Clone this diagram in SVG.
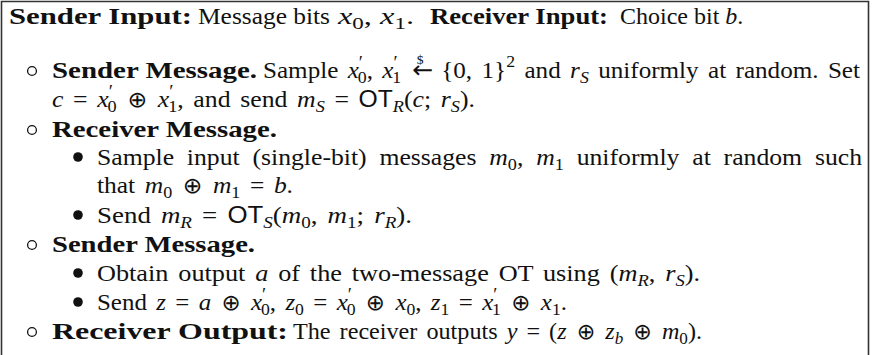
<svg xmlns="http://www.w3.org/2000/svg" width="874" height="355" viewBox="0 0 874 355">
<style>
text{font-family:"Liberation Serif","DejaVu Serif",serif;font-size:24px;fill:#111}
.b{font-weight:bold}
.i{font-style:italic}
.s{font-size:17px}
.p{font-size:18px}
.sf{font-family:"Liberation Sans","DejaVu Sans",sans-serif;font-size:23px}
.op{font-family:"DejaVu Sans",sans-serif;font-size:22px}
.ar{font-family:"DejaVu Sans",sans-serif;font-size:24px}
.dl{font-size:13px}
.ws{word-spacing:3px}
.ho{fill:none;stroke:#111;stroke-width:1.3}
.fb{fill:#111}
</style>
<rect width="874" height="355" fill="#fff"/>
<path d="M1.5,355V1.5H868.5V355" fill="none" stroke="#333" stroke-width="1.6"/>
<g id="inputs">
<text class="b" x="9" y="24" textLength="183" lengthAdjust="spacingAndGlyphs">Sender Input:</text>
<text x="198" y="24" textLength="132" lengthAdjust="spacingAndGlyphs">Message bits</text>
<text x="338" y="24" textLength="76" lengthAdjust="spacingAndGlyphs"><tspan class="i">x</tspan><tspan class="s" dy="5">0</tspan><tspan dy="-5">, </tspan><tspan class="i">x</tspan><tspan class="s" dy="5">1</tspan><tspan dy="-5">.</tspan></text>
<text class="b" x="430" y="24" textLength="178" lengthAdjust="spacingAndGlyphs">Receiver Input:</text>
<text x="620" y="24">Choice bit <tspan class="i">b</tspan>.</text>
</g>
<g id="sender-message-1">
<circle class="ho" cx="32" cy="71" r="4.4"/>
<text class="b" x="52" y="78" textLength="205" lengthAdjust="spacingAndGlyphs">Sender Message.</text>
<text class="ws" x="263" y="78" textLength="597" lengthAdjust="spacingAndGlyphs">Sample <tspan class="i">x</tspan><tspan class="p" dy="-9">′</tspan><tspan class="s" dx="-5" dy="14">0</tspan><tspan dy="-5">, </tspan><tspan class="i">x</tspan><tspan class="p" dy="-9">′</tspan><tspan class="s" dx="-5" dy="14">1</tspan><tspan class="ar" dy="-5"> ←</tspan><tspan class="dl" dx="-16" dy="-14">$</tspan><tspan dx="8" dy="14"> {0, 1}</tspan><tspan class="s" dy="-11">2</tspan><tspan dy="11"> and </tspan><tspan class="i">r</tspan><tspan class="s i" dy="5">S</tspan><tspan dy="-5"> uniformly at random. Set</tspan></text>
<text class="ws" x="52" y="107" textLength="423" lengthAdjust="spacingAndGlyphs"><tspan class="i">c</tspan> = <tspan class="i">x</tspan><tspan class="p" dy="-9">′</tspan><tspan class="s" dx="-5" dy="14">0</tspan><tspan class="op" dy="-5"> ⊕ </tspan><tspan class="i">x</tspan><tspan class="p" dy="-9">′</tspan><tspan class="s" dx="-5" dy="14">1</tspan><tspan dy="-5">, and send </tspan><tspan class="i">m</tspan><tspan class="s i" dy="5">S</tspan><tspan dy="-5"> = </tspan><tspan class="sf">OT</tspan><tspan class="s i" dy="5">R</tspan><tspan dy="-5">(</tspan><tspan class="i">c</tspan>; <tspan class="i">r</tspan><tspan class="s i" dy="5">S</tspan><tspan dy="-5">).</tspan></text>
</g>
<g id="receiver-message">
<circle class="ho" cx="32" cy="130" r="4.4"/>
<text class="b" x="52" y="137" textLength="225" lengthAdjust="spacingAndGlyphs">Receiver Message.</text>
<circle class="fb" cx="78" cy="157" r="4.8"/>
<text x="97" y="165" style="word-spacing:6px" textLength="765" lengthAdjust="spacingAndGlyphs">Sample input (single-bit) messages <tspan class="i">m</tspan><tspan class="s" dy="5">0</tspan><tspan dy="-5">, </tspan><tspan class="i">m</tspan><tspan class="s" dy="5">1</tspan><tspan dy="-5"> uniformly at random such</tspan></text>
<text class="ws" x="97" y="193" textLength="196" lengthAdjust="spacingAndGlyphs">that <tspan class="i">m</tspan><tspan class="s" dy="5">0</tspan><tspan class="op" dy="-5"> ⊕ </tspan><tspan class="i">m</tspan><tspan class="s" dy="5">1</tspan><tspan dy="-5"> = </tspan><tspan class="i">b</tspan>.</text>
<circle class="fb" cx="78" cy="215" r="4.8"/>
<text class="ws" x="97" y="223" textLength="315" lengthAdjust="spacingAndGlyphs">Send <tspan class="i">m</tspan><tspan class="s i" dy="5">R</tspan><tspan dy="-5"> = </tspan><tspan class="sf">OT</tspan><tspan class="s i" dy="5">S</tspan><tspan dy="-5">(</tspan><tspan class="i">m</tspan><tspan class="s" dy="5">0</tspan><tspan dy="-5">, </tspan><tspan class="i">m</tspan><tspan class="s" dy="5">1</tspan><tspan dy="-5">; </tspan><tspan class="i">r</tspan><tspan class="s i" dy="5">R</tspan><tspan dy="-5">).</tspan></text>
</g>
<g id="sender-message-2">
<circle class="ho" cx="32" cy="245" r="4.4"/>
<text class="b" x="52" y="252" textLength="203" lengthAdjust="spacingAndGlyphs">Sender Message.</text>
<circle class="fb" cx="78" cy="273" r="4.8"/>
<text class="ws" x="97" y="281" textLength="603" lengthAdjust="spacingAndGlyphs">Obtain output <tspan class="i">a</tspan> of the two-message OT using (<tspan class="i">m</tspan><tspan class="s i" dy="5">R</tspan><tspan dy="-5">, </tspan><tspan class="i">r</tspan><tspan class="s i" dy="5">S</tspan><tspan dy="-5">).</tspan></text>
<circle class="fb" cx="78" cy="302" r="4.8"/>
<text class="ws" x="97" y="310" textLength="470" lengthAdjust="spacingAndGlyphs">Send <tspan class="i">z</tspan> = <tspan class="i">a</tspan><tspan class="op"> ⊕ </tspan><tspan class="i">x</tspan><tspan class="p" dy="-9">′</tspan><tspan class="s" dx="-5" dy="14">0</tspan><tspan dy="-5">, </tspan><tspan class="i">z</tspan><tspan class="s" dy="5">0</tspan><tspan dy="-5"> = </tspan><tspan class="i">x</tspan><tspan class="p" dy="-9">′</tspan><tspan class="s" dx="-5" dy="14">0</tspan><tspan class="op" dy="-5"> ⊕ </tspan><tspan class="i">x</tspan><tspan class="s" dy="5">0</tspan><tspan dy="-5">, </tspan><tspan class="i">z</tspan><tspan class="s" dy="5">1</tspan><tspan dy="-5"> = </tspan><tspan class="i">x</tspan><tspan class="p" dy="-9">′</tspan><tspan class="s" dx="-5" dy="14">1</tspan><tspan class="op" dy="-5"> ⊕ </tspan><tspan class="i">x</tspan><tspan class="s" dy="5">1</tspan><tspan dy="-5">.</tspan></text>
</g>
<g id="receiver-output">
<circle class="ho" cx="32" cy="332" r="4.4"/>
<text class="b" x="52" y="339" textLength="236" lengthAdjust="spacingAndGlyphs">Receiver Output:</text>
<text class="ws" x="293" y="339" textLength="409" lengthAdjust="spacingAndGlyphs">The receiver outputs <tspan class="i">y</tspan> = (<tspan class="i">z</tspan><tspan class="op"> ⊕ </tspan><tspan class="i">z</tspan><tspan class="s i" dy="5">b</tspan><tspan class="op" dy="-5"> ⊕ </tspan><tspan class="i">m</tspan><tspan class="s" dy="5">0</tspan><tspan dy="-5">).</tspan></text>
</g>
</svg>
